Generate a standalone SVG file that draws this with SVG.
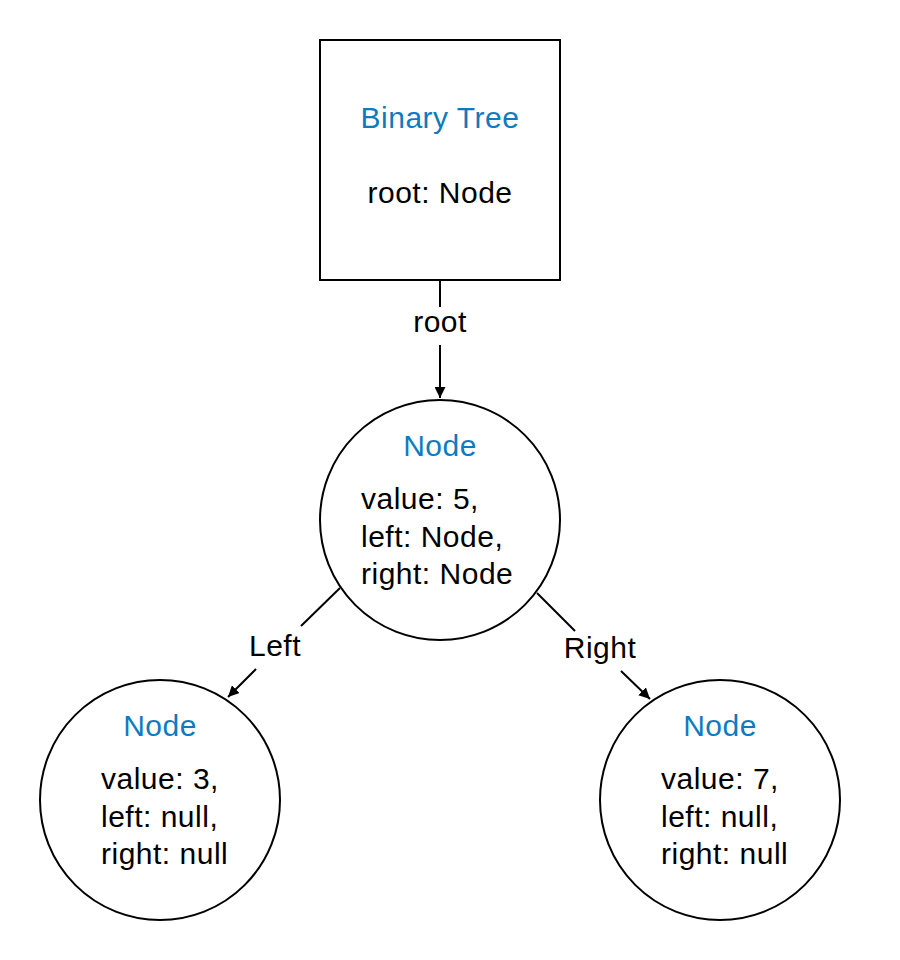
<svg xmlns="http://www.w3.org/2000/svg" width="900" height="960" viewBox="0 0 900 960">
<style>
.shape{fill:#fff;stroke:#000;stroke-width:2}
.t{font-family:"Liberation Sans",Arial,sans-serif;font-size:30px;letter-spacing:0.5px;fill:#000}
.h{fill:#0e7bc0}
.c{text-anchor:middle}
.line{stroke:#000;stroke-width:2;fill:none}
</style>
<defs>
<marker id="arr" viewBox="0 0 10 10" refX="10" refY="5" markerWidth="11" markerHeight="11" markerUnits="userSpaceOnUse" orient="auto">
<path d="M0,0 L10,5 L0,10 z" fill="#000"/>
</marker>
</defs>
<rect width="900" height="960" fill="#fff"/>
<g id="connectors">
<line class="line" x1="440" y1="280" x2="440" y2="307"/>
<line class="line" x1="440" y1="345" x2="440" y2="398" marker-end="url(#arr)"/>
<text class="t c" x="440" y="332">root</text>
<line class="line" x1="340" y1="588" x2="301" y2="626"/>
<line class="line" x1="256" y1="669" x2="228" y2="697" marker-end="url(#arr)"/>
<text class="t c" x="275" y="656">Left</text>
<line class="line" x1="537" y1="593" x2="575" y2="631"/>
<line class="line" x1="621" y1="671" x2="650" y2="699" marker-end="url(#arr)"/>
<text class="t c" x="600" y="658">Right</text>
</g>
<g id="binary-tree">
<rect class="shape" x="320" y="40" width="240" height="240"/>
<text class="t h c" x="440" y="128">Binary Tree</text>
<text class="t c" x="440" y="203">root: Node</text>
</g>
<g id="node-5">
<circle class="shape" cx="440" cy="520" r="120"/>
<text class="t h c" x="440" y="456">Node</text>
<text class="t" x="361" y="509">value: 5,</text>
<text class="t" x="361" y="547">left: Node,</text>
<text class="t" x="361" y="584">right: Node</text>
</g>
<g id="node-3">
<circle class="shape" cx="160" cy="800" r="120"/>
<text class="t h c" x="160" y="736">Node</text>
<text class="t" x="101" y="789">value: 3,</text>
<text class="t" x="101" y="827">left: null,</text>
<text class="t" x="101" y="864">right: null</text>
</g>
<g id="node-7">
<circle class="shape" cx="720" cy="800" r="120"/>
<text class="t h c" x="720" y="736">Node</text>
<text class="t" x="661" y="789">value: 7,</text>
<text class="t" x="661" y="827">left: null,</text>
<text class="t" x="661" y="864">right: null</text>
</g>
</svg>
